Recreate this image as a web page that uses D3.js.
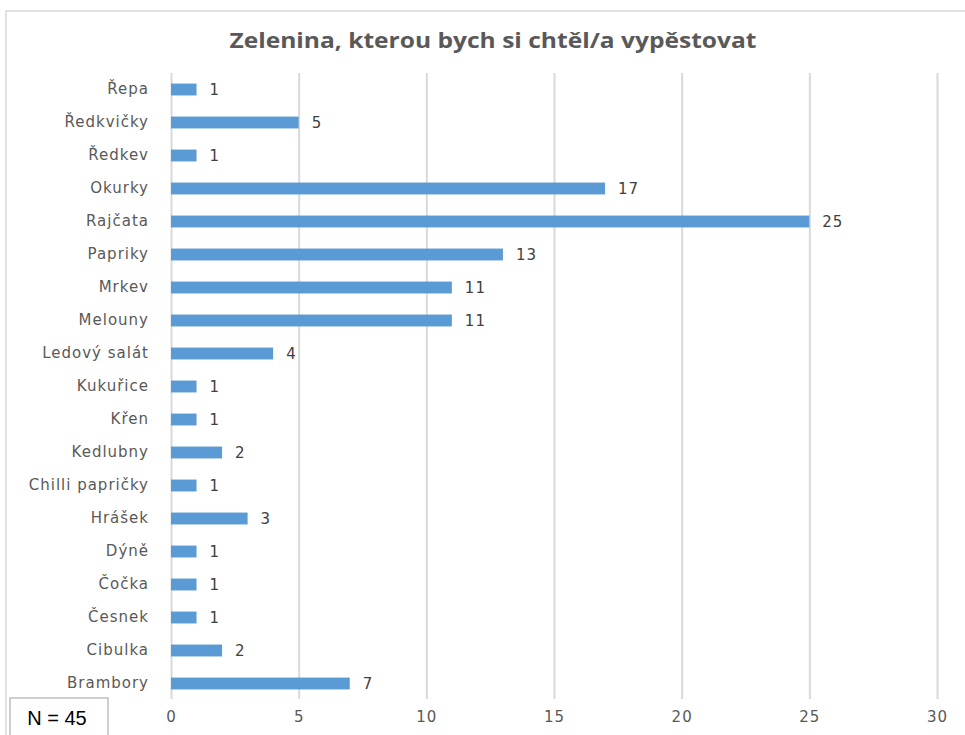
<!DOCTYPE html>
<html>
<head>
<meta charset="utf-8">
<style>
    body { margin: 0; background: #fff; }
    svg { display: block; font-family: 'DejaVu Sans', sans-serif; }
    .y .tick text { font-family: 'DejaVu Sans', sans-serif; font-size: 15px; fill: #595959; letter-spacing: 1px; }
    .x .tick text { font-family: 'DejaVu Sans', sans-serif; font-size: 15px; fill: #595959; letter-spacing: 1px; }
    .domain { display: none; }
    .x .tick line { stroke: #d9d9d9; stroke-width: 2; }
    .value { font-size: 15px; fill: #404040; letter-spacing: 1px; }
    .title { font-family: 'Liberation Sans Narrow', 'Open Sans', sans-serif; font-size: 22px; font-weight: bold; fill: #595959; }
</style>
</head>
<body>
<svg width="965" height="735"></svg>
<script src="https://d3js.org/d3.v7.min.js"></script>
<script>
// data, top to bottom as in the chart
let categories = ["Řepa", "Ředkvičky", "Ředkev", "Okurky", "Rajčata", "Papriky", "Mrkev",
    "Melouny", "Ledový salát", "Kukuřice", "Křen", "Kedlubny", "Chilli papričky", "Hrášek",
    "Dýně", "Čočka", "Česnek", "Cibulka", "Brambory"]
let values = [1, 5, 1, 17, 25, 13, 11, 11, 4, 1, 1, 2, 1, 3, 1, 1, 1, 2, 7]
let xTicks = [0, 5, 10, 15, 20, 25, 30]

let svg = d3.select("svg")

// chart frame
svg.append("rect")
    .attr("x", 6).attr("y", 11)
    .attr("width", 1000).attr("height", 800)
    .attr("fill", "white")
    .attr("stroke", "#d9d9d9")
    .attr("stroke-width", 1.5)

svg.append("text")
    .attr("class", "title")
    .attr("x", 493)
    .attr("y", 48)
    .attr("text-anchor", "middle")
    .attr("textLength", 527)
    .attr("lengthAdjust", "spacingAndGlyphs")
    .text("Zelenina, kterou bych si chtěl/a vypěstovat")

let x = d3.scaleLinear().domain([0, 30]).range([171, 937])

let y = d3.scaleBand()
    .domain(categories)
    .range([73, 700])
    .paddingInner(0.64)
    .paddingOuter(0.32)

// grid
svg.append("g")
    .attr("class", "x axis")
    .attr("transform", "translate(0,699)")
    .call(d3.axisBottom(x).tickValues(xTicks).tickSize(-626).tickPadding(12))

svg.append("g")
    .attr("class", "y axis")
    .attr("transform", "translate(149,0)")
    .call(d3.axisLeft(y).tickSize(0).tickPadding(0))

svg.append("g")
    .selectAll("rect")
    .data(values)
    .join("rect")
    .attr("x", x(0))
    .attr("y", (d, i) => y(categories[i]))
    .attr("width", d => x(d) - x(0))
    .attr("height", y.bandwidth())
    .attr("fill", "#5b9bd5")

svg.append("g")
    .selectAll("text")
    .data(values)
    .join("text")
    .attr("class", "value")
    .attr("x", d => x(d) + 13)
    .attr("y", (d, i) => y(categories[i]) + y.bandwidth() / 2)
    .attr("dy", "0.35em")
    .text(d => d)

// N box
svg.append("rect")
    .attr("x", 10).attr("y", 698)
    .attr("width", 98).attr("height", 60)
    .attr("fill", "white")
    .attr("stroke", "#bfbfbf")
    .attr("stroke-width", 1.5)

svg.append("text")
    .attr("x", 57)
    .attr("y", 725)
    .attr("text-anchor", "middle")
    .style("font-family", "'Liberation Sans', sans-serif")
    .style("font-size", "20px")
    .style("fill", "#000")
    .text("N = 45")
</script>
</body>
</html>
